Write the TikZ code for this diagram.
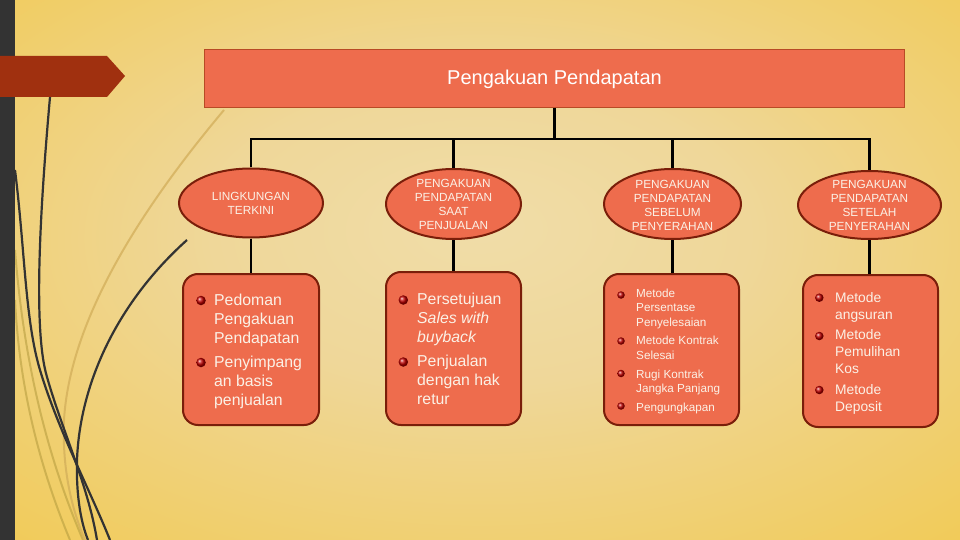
\documentclass[tikz,border=0pt]{standalone}
\usepackage{fontspec}
\setmainfont{Liberation Sans}
\usetikzlibrary{shapes.geometric}
\definecolor{bgin}{HTML}{F0DDA8}
\definecolor{bgmid}{HTML}{EFD799}
\definecolor{bgout}{HTML}{F2C434}
\definecolor{barc}{HTML}{333333}
\definecolor{bannerc}{HTML}{A0300F}
\definecolor{boxfill}{HTML}{EE6C4D}
\definecolor{boxline}{HTML}{7A1E0A}
\definecolor{topline}{HTML}{B84A25}
\definecolor{txtc}{HTML}{FBF1E6}
\definecolor{wispdark}{HTML}{333333}
\definecolor{wisptan}{HTML}{D2AE5A}
\definecolor{wispolive}{HTML}{B39A3C}
\definecolor{dotc}{HTML}{C00000}
\pgfdeclareradialshading{bgshade}{\pgfpoint{0bp}{4bp}}{color(0bp)=(bgin); color(14bp)=(bgmid); color(50bp)=(bgout); color(80bp)=(bgout)}
\begin{document}
\begin{tikzpicture}[x=1pt,y=-1pt,
  toptext/.style={inner sep=0pt, text=white, font=\fontsize{20}{24}\selectfont},
  topbox/.style={draw=topline, line width=1pt, fill=boxfill, minimum width=700pt, minimum height=58pt, inner sep=0pt},
  oval/.style={ellipse, draw=boxline, line width=2pt, fill=boxfill, inner sep=0pt},
  ovaltext/.style={align=center, text=txtc, inner sep=0pt, font=\fontsize{11.8}{14.2}\selectfont},
  listbox/.style={draw=boxline, line width=2pt, fill=boxfill, rounded corners=15pt, inner sep=0pt},
  listtext/.style={anchor=base west, inner sep=0pt, text=txtc},
  dot/.style={circle, shading=ball, ball color=dotc, inner sep=0pt},
  link/.style={line width=2.6pt, black},
  darkwisp/.style={draw=wispdark, line width=2.2pt},
  tanwisp/.style={draw=wisptan, line width=2pt, opacity=0.75},
  olivewisp/.style={draw=wispolive, line width=2pt, opacity=0.55}
]
\useasboundingbox (0,0) rectangle (960,540);
\fill[bgout] (0,0) rectangle (960,540);
\shade[shading=bgshade] (0,0) rectangle (960,540);

% wisps
\draw[olivewisp] (15,250) .. controls (22,340) and (40,440) .. (83,540);
\draw[olivewisp] (15,300) .. controls (20,400) and (45,480) .. (70,540);
\draw[tanwisp] (224,110) .. controls (140,210) and (70,320) .. (64,420) .. controls (62,470) and (72,510) .. (85,540);
\draw[darkwisp] (50,97) .. controls (40,210) and (33,330) .. (47,377) .. controls (62,430) and (88,485) .. (97,540);
\draw[darkwisp] (15,170) .. controls (25,250) and (25,320) .. (40,370) .. controls (58,430) and (90,490) .. (110,540);
\draw[darkwisp] (187,240) .. controls (120,300) and (80,380) .. (77,460) .. controls (76,500) and (82,525) .. (88,540);

% left bar and banner
\fill[barc] (0,0) rectangle (15,540);
\fill[bannerc] (0,56) -- (107,56) -- (125,76) -- (107,97) -- (0,97) -- cycle;

% top box
\node[topbox] (top) at (554.5,78.5) {};
\node[toptext, anchor=base] (toptxt) at (554.5,85) {Pengakuan Pendapatan};

% ovals
\node[oval, minimum width=144pt, minimum height=69pt] (e1) at (251,203) {};
\node[oval, minimum width=135pt, minimum height=70pt] (e2) at (453.5,204) {};
\node[oval, minimum width=137pt, minimum height=70pt] (e3) at (672.5,204) {};
\node[oval, minimum width=143pt, minimum height=68pt] (e4) at (869.5,205) {};
\node[ovaltext, font=\fontsize{11.8}{13.4}\selectfont] (e1t) at (251,203.5) {LINGKUNGAN\\TERKINI};
\node[ovaltext] (e2t) at (453.5,204.5) {PENGAKUAN\\PENDAPATAN\\SAAT\\PENJUALAN};
\node[ovaltext] (e3t) at (672.5,205.5) {PENGAKUAN\\PENDAPATAN\\SEBELUM\\PENYERAHAN};
\node[ovaltext] (e4t) at (869.5,205.5) {PENGAKUAN\\PENDAPATAN\\SETELAH\\PENYERAHAN};

% list boxes
\node[listbox, minimum width=136pt, minimum height=151pt] (b1) at (251,349.5) {};
\node[listbox, minimum width=135pt, minimum height=153pt] (b2) at (453.5,348.5) {};
\node[listbox, minimum width=135pt, minimum height=151pt] (b3) at (671.5,349.5) {};
\node[listbox, minimum width=135pt, minimum height=152pt] (b4) at (870.5,351) {};

% connectors
\coordinate (j) at (554.5,139);
\draw[link] (top.south) -- (j);
\draw[link] (e1.north) -- (e1.north |- j) -- (e4.north |- j) -- (e4.north);
\draw[link] (e2.north) -- (e2.north |- j);
\draw[link] (e3.north) -- (e3.north |- j);
\draw[link] (e1.south) -- (e1.south |- b1.north);
\draw[link] (e2.south) -- (e2.south |- b2.north);
\draw[link] (e3.south) -- (e3.south |- b3.north);
\draw[link] (e4.south) -- (e4.south |- b4.north);

% box 1
\node[listtext, font=\fontsize{15.8}{19}\selectfont] (t1) at (214,305) {\vtop{\baselineskip=19pt
  \hbox{Pedoman}\hbox{Pengakuan}\hbox{Pendapatan}\vskip5pt
  \hbox{Penyimpang}\hbox{an basis}\hbox{penjualan}}};
\node[dot, minimum size=9.5pt] (d1a) at (201,300.5) {};
\node[dot, minimum size=9.5pt] (d1b) at (201,362.5) {};

% box 2
\node[listtext, font=\fontsize{15.8}{19}\selectfont] (t2) at (417,304.5) {\vtop{\baselineskip=19pt
  \hbox{Persetujuan}\hbox{\itshape Sales with}\hbox{\itshape buyback}\vskip5pt
  \hbox{Penjualan}\hbox{dengan hak}\hbox{retur}}};
\node[dot, minimum size=9.5pt] (d2a) at (403.3,300) {};
\node[dot, minimum size=9.5pt] (d2b) at (403.3,362) {};

% box 3
\node[listtext, font=\fontsize{11.7}{14.6}\selectfont] (t3) at (636,297) {\vtop{\baselineskip=14.6pt
  \hbox{Metode}\hbox{Persentase}\hbox{Penyelesaian}\vskip4pt
  \hbox{Metode Kontrak}\hbox{Selesai}\vskip4pt
  \hbox{Rugi Kontrak}\hbox{Jangka Panjang}\vskip4pt
  \hbox{Pengungkapan}}};
\node[dot, minimum size=7.5pt] (d3a) at (621,295) {};
\node[dot, minimum size=7.5pt] (d3b) at (621,341) {};
\node[dot, minimum size=7.5pt] (d3c) at (621,373.5) {};
\node[dot, minimum size=7.5pt] (d3d) at (621,406) {};

% box 4
\node[listtext, font=\fontsize{13.8}{17}\selectfont] (t4) at (835,302) {\vtop{\baselineskip=17pt
  \hbox{Metode}\hbox{angsuran}\vskip3.6pt
  \hbox{Metode}\hbox{Pemulihan}\hbox{Kos}\vskip3.6pt
  \hbox{Metode}\hbox{Deposit}}};
\node[dot, minimum size=8.5pt] (d4a) at (819.3,297.7) {};
\node[dot, minimum size=8.5pt] (d4b) at (819.3,336) {};
\node[dot, minimum size=8.5pt] (d4c) at (819.3,390) {};
\end{tikzpicture}
\end{document}
